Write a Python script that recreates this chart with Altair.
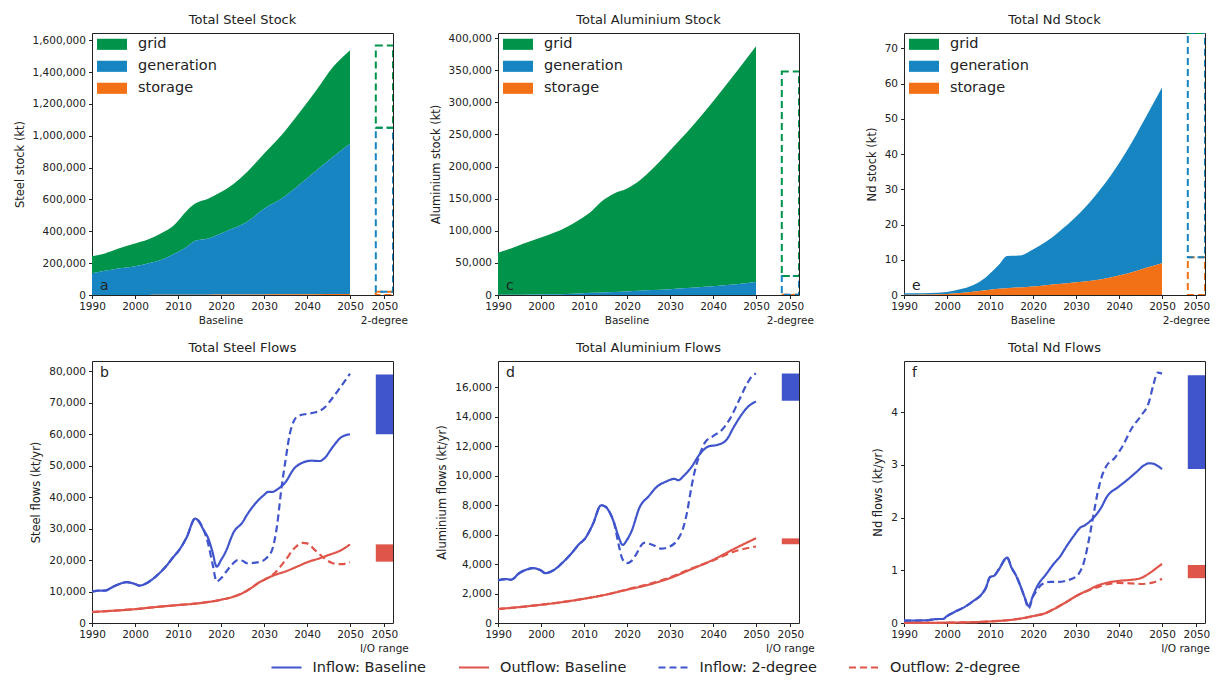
import altair as alt
import pandas as pd
import numpy as np

FONT = "DejaVu Sans"
W, H = 301, 262
XDOM = [1990, 2060]
SLOT = [2056, 2060]          # x-span of the 2-degree / I/O range column (drawn at "2050")
GREEN, SBLUE, ORANGE = "#00934A", "#1785C1", "#F37116"
BLUE, RED = "#4055CC", "#E0554A"
TXT = "#222222"

COMPONENTS = ["grid", "generation", "storage"]
STACK_ORDER = {"storage": 0, "generation": 1, "grid": 2}
SERIES = ["Inflow: Baseline", "Outflow: Baseline", "Inflow: 2-degree", "Outflow: 2-degree"]

# ---------------- stock data (kt) ----------------
STOCK_YEARS = [1990, 1993, 1996, 2000, 2003, 2006, 2009, 2012, 2014, 2017,
               2020, 2023, 2026, 2030, 2034, 2038, 2042, 2046, 2050]

steel_grid = [108000, 109000, 123000, 142000, 150000, 167000, 179000, 226000, 234000, 250000,
              261000, 278000, 311000, 345000, 396000, 449000, 501000, 563000, 588000]
steel_gen = [135700, 151600, 166500, 180400, 197300, 218000, 255800, 300500, 338200, 352900,
             383400, 418000, 455700, 538200, 600700, 683200, 772700, 860700, 942700]
steel_storage = [300, 400, 500, 600, 700, 1000, 1200, 1500, 1800, 2100,
                 2600, 3000, 3300, 3800, 4300, 4800, 5300, 5800, 6300]
steel_2deg = [20000, 1030000, 517000]          # storage, generation, grid

al_grid = [65400, 72100, 79700, 88700, 95700, 104400, 115100, 128700, 141000, 153300,
           160100, 172000, 189100, 216000, 242900, 272000, 303400, 335000, 367000]
al_gen = [300, 400, 500, 800, 1100, 1600, 2400, 3300, 4000, 4700,
          5500, 6500, 7600, 9000, 10700, 12600, 14600, 17000, 20000]
al_storage = [0, 0, 0, 0, 0, 0, 0, 10, 20, 30, 40, 50, 60, 70, 80, 90, 100, 110, 120]
al_2deg = [300, 29200, 318500]

nd_grid = [0] * 19
nd_gen = [0.45, 0.40, 0.40, 0.55, 1.00, 1.85, 3.65, 6.75, 9.15, 9.05,
          10.5, 12.35, 14.8, 18.6, 23.4, 28.8, 35.2, 42.4, 49.9]
nd_storage = [0.05, 0.10, 0.15, 0.30, 0.60, 0.95, 1.35, 1.75, 1.95, 2.15,
              2.40, 2.75, 3.10, 3.60, 4.10, 5.00, 6.10, 7.60, 9.00]
nd_2deg = [10.7, 63.7, 0.6]

# ---------------- flow data (kt/yr) ----------------
steel_in_base_x = [1990, 1992, 1993, 1995, 1997, 1998, 2000, 2001, 2003, 2005, 2007, 2009, 2010, 2012,
                   2014, 2016, 2017, 2018, 2019, 2020, 2021, 2023, 2025, 2026, 2028, 2030, 2031, 2032,
                   2033, 2035, 2037, 2039, 2041, 2043, 2044, 2046, 2048, 2050]
steel_in_base_y = [10000, 10300, 10300, 11600, 12700, 13000, 12400, 11900, 12900, 15000, 17700, 21100,
                   22700, 27200, 33200, 29500, 27000, 22700, 17900, 20000, 22400, 29000, 32000, 34300,
                   38000, 40700, 41700, 41700, 42400, 44800, 49100, 51000, 51600, 51500, 52300, 56000,
                   59100, 60000]
steel_in_2deg_x = [1990, 1992, 1993, 1995, 1997, 1998, 2000, 2001, 2003, 2005, 2007, 2009, 2010, 2012,
                   2014, 2016, 2017, 2018, 2019, 2020, 2022, 2024, 2025, 2026, 2028, 2030, 2031, 2032,
                   2033, 2034, 2035, 2036, 2037, 2038, 2040, 2042, 2044, 2046, 2048, 2050]
steel_in_2deg_y = [10000, 10300, 10300, 11600, 12700, 13000, 12400, 11900, 12900, 15000, 17700, 21100,
                   22700, 27200, 33200, 29500, 25300, 19000, 13200, 14200, 17700, 20000, 19800, 19000,
                   19200, 20000, 21300, 23700, 30600, 42200, 51700, 60100, 64400, 65800, 66500, 67000,
                   68400, 71700, 75400, 79300]
steel_out_base_x = [1990, 1995, 2000, 2005, 2010, 2015, 2020, 2023, 2025, 2027, 2029, 2030, 2032,
                    2035, 2038, 2040, 2043, 2045, 2048, 2050]
steel_out_base_y = [3500, 3900, 4400, 5100, 5700, 6300, 7400, 8400, 9500, 11100, 13000, 13700, 15000,
                    16400, 18100, 19300, 20600, 21600, 23200, 25000]
steel_out_2deg_x = [1990, 1995, 2000, 2005, 2010, 2015, 2020, 2023, 2025, 2027, 2029, 2030, 2032,
                    2035, 2037, 2039, 2040, 2042, 2044, 2046, 2048, 2050]
steel_out_2deg_y = [3500, 3900, 4400, 5100, 5700, 6300, 7400, 8400, 9500, 11100, 13000, 13700, 15300,
                    20000, 23700, 25500, 25300, 23000, 20600, 19000, 18700, 19300]
steel_io = [[60000, 79000], [19500, 25000]]    # inflow range, outflow range

al_in_base_x = [1990, 1992, 1993, 1995, 1997, 1998, 2000, 2001, 2003, 2005, 2007, 2009, 2010, 2012,
                2014, 2015, 2016, 2017, 2018, 2019, 2020, 2021, 2023, 2025, 2027, 2029, 2031, 2032,
                2033, 2035, 2037, 2039, 2041, 2043, 2045, 2047, 2048, 2050]
al_in_base_y = [2900, 2980, 2940, 3400, 3660, 3730, 3570, 3390, 3600, 4100, 4700, 5400, 5650, 6670,
                8000, 7900, 7500, 6800, 5900, 5300, 5650, 6200, 7900, 8600, 9270, 9600, 9790, 9700,
                9940, 10600, 11500, 12000, 12100, 12400, 13400, 14300, 14650, 15050]
al_in_2deg_x = [1990, 1992, 1993, 1995, 1997, 1998, 2000, 2001, 2003, 2005, 2007, 2009, 2010, 2012,
                2014, 2015, 2016, 2017, 2018, 2019, 2020, 2021, 2022, 2024, 2026, 2028, 2030, 2032,
                2033, 2034, 2035, 2036, 2037, 2038, 2040, 2042, 2044, 2046, 2048, 2049, 2050]
al_in_2deg_y = [2900, 2980, 2940, 3400, 3660, 3730, 3570, 3390, 3600, 4100, 4700, 5400, 5650, 6670,
                8000, 7900, 7500, 6800, 5400, 4300, 4070, 4200, 4600, 5450, 5300, 5050, 5200, 5760,
                6400, 7570, 9270, 10600, 11500, 12200, 12700, 13100, 13900, 15100, 16300, 16750, 16950]
al_out_base_x = [1990, 1995, 2000, 2005, 2010, 2015, 2020, 2025, 2030, 2035, 2040, 2045, 2050]
al_out_base_y = [950, 1080, 1240, 1420, 1650, 1920, 2260, 2600, 3050, 3660, 4290, 5050, 5760]
al_out_2deg_x = [1990, 1995, 2000, 2005, 2010, 2015, 2020, 2025, 2030, 2035, 2040, 2045, 2050]
al_out_2deg_y = [950, 1080, 1240, 1420, 1650, 1920, 2290, 2640, 3100, 3700, 4250, 4860, 5200]
al_io = [[15100, 16950], [5350, 5750]]

nd_in_base_x = [1990, 1995, 1998, 1999, 2000, 2002, 2004, 2006, 2008, 2009, 2010, 2011, 2012, 2014,
                2015, 2016, 2017, 2018, 2019, 2020, 2021, 2023, 2025, 2026, 2028, 2030, 2031, 2032,
                2034, 2036, 2037, 2040, 2042, 2044, 2046, 2047, 2048, 2049, 2050]
nd_in_base_y = [0.044, 0.05, 0.076, 0.076, 0.13, 0.22, 0.30, 0.41, 0.54, 0.66, 0.87, 0.90, 1.01, 1.24,
                1.05, 0.91, 0.72, 0.50, 0.32, 0.52, 0.70, 0.92, 1.14, 1.23, 1.48, 1.71, 1.81, 1.85,
                1.99, 2.21, 2.37, 2.59, 2.72, 2.86, 3.00, 3.03, 3.02, 2.98, 2.92]
nd_in_2deg_x = [1990, 1995, 1998, 1999, 2000, 2002, 2004, 2006, 2008, 2009, 2010, 2011, 2012, 2014,
                2015, 2016, 2017, 2018, 2019, 2020, 2021, 2022, 2024, 2026, 2028, 2030, 2031, 2032,
                2033, 2034, 2035, 2036, 2037, 2039, 2041, 2043, 2045, 2047, 2048, 2049, 2050]
nd_in_2deg_y = [0.044, 0.05, 0.076, 0.076, 0.13, 0.22, 0.30, 0.41, 0.54, 0.66, 0.87, 0.90, 1.01, 1.24,
                1.05, 0.91, 0.72, 0.50, 0.28, 0.50, 0.63, 0.73, 0.78, 0.78, 0.81, 0.88, 0.98, 1.20,
                1.58, 2.02, 2.46, 2.78, 2.97, 3.13, 3.38, 3.70, 3.92, 4.20, 4.52, 4.75, 4.73]
nd_out_base_x = [1990, 2000, 2010, 2015, 2020, 2023, 2025, 2028, 2030, 2033, 2035, 2037, 2040, 2043,
                 2045, 2047, 2049, 2050]
nd_out_base_y = [0.0, 0.006, 0.03, 0.06, 0.13, 0.19, 0.27, 0.41, 0.51, 0.63, 0.71, 0.76, 0.80, 0.82,
                 0.85, 0.94, 1.06, 1.12]
nd_out_2deg_x = [1990, 2000, 2010, 2015, 2020, 2023, 2025, 2028, 2030, 2033, 2035, 2037, 2040, 2043,
                 2045, 2048, 2050]
nd_out_2deg_y = [0.0, 0.006, 0.03, 0.06, 0.13, 0.19, 0.27, 0.41, 0.51, 0.62, 0.68, 0.73, 0.76, 0.75,
                 0.74, 0.77, 0.84]
nd_io = [[2.92, 4.70], [0.85, 1.10]]


def x_axis():
    return alt.Axis(values=[1990, 2000, 2010, 2020, 2030, 2040, 2050, 2058],
                    labelExpr="datum.value == 2058 ? '2050' : format(datum.value, 'd')",
                    title=None, labelFlush=False, labelOverlap=False)


def y_axis(ymax, ystep, fmt, title):
    vals = [float(v) for v in np.arange(0, ymax, ystep)]
    return alt.Axis(values=vals, format=fmt, title=title, labelOverlap=False)


def xscale():
    return alt.Scale(domain=XDOM, nice=False, zero=False)


def sublabels(main_txt, slot_txt, last_col):
    layers = []
    if main_txt:
        df = pd.DataFrame({"pos": [2020], "t": [main_txt]})
        layers.append(alt.Chart(df).mark_text(baseline="top", fontSize=10.5, color=TXT, font=FONT).encode(
            x=alt.X("pos:Q", scale=xscale(), axis=x_axis()), y=alt.value(H + 21), text="t:N"))
    df2 = pd.DataFrame({"pos": [2058], "t": [slot_txt]})
    if last_col:
        layers.append(alt.Chart(df2).mark_text(baseline="top", align="right", fontSize=10.5, color=TXT,
                                               font=FONT).encode(
            x=alt.value(W + 5), y=alt.value(H + 21), text="t:N"))
    else:
        layers.append(alt.Chart(df2).mark_text(baseline="top", fontSize=10.5, color=TXT, font=FONT).encode(
            x=alt.X("pos:Q", scale=xscale(), axis=x_axis()), y=alt.value(H + 21), text="t:N"))
    return layers


def letter(ch, top):
    df = pd.DataFrame({"t": [ch]})
    return alt.Chart(df).mark_text(align="left", baseline="middle", fontSize=14, color=TXT, font=FONT).encode(
        x=alt.value(8), y=alt.value(12 if top else H - 9), text="t:N")


def stock_chart(title, ytitle, grid, gen, sto, deg, ymax, ystep, fmt, ch, last_col=False):
    rows = []
    for comp, vals in (("grid", grid), ("generation", gen), ("storage", sto)):
        for yr, v in zip(STOCK_YEARS, vals):
            rows.append({"year": yr, "component": comp, "value": v, "ord": STACK_ORDER[comp]})
    df = pd.DataFrame(rows)
    ysc = alt.Scale(domain=[0, ymax], nice=False)
    yax = y_axis(ymax, ystep, fmt, ytitle)
    area = alt.Chart(df).mark_area(opacity=1, interpolate="monotone").encode(
        x=alt.X("year:Q", scale=xscale(), axis=x_axis()),
        y=alt.Y("value:Q", stack="zero", scale=ysc, axis=yax),
        color=alt.Color("component:N",
                        scale=alt.Scale(domain=COMPONENTS, range=[GREEN, SBLUE, ORANGE]),
                        legend=alt.Legend(title=None, orient="none", legendX=5, legendY=-3.7, padding=0,
                                          symbolType="M-1,-0.37H1V0.37H-1Z", symbolSize=900,
                                          symbolStrokeWidth=0, symbolOpacity=1,
                                          labelFontSize=14.5, labelFont=FONT, labelColor=TXT,
                                          labelOffset=11, rowPadding=-0.7)),
        order=alt.Order("ord:Q"),
    )
    comps = ["storage", "generation", "grid"]
    hi = np.cumsum(deg)
    lo = hi - np.array(deg)
    ddf = pd.DataFrame({"component": comps, "lo": lo, "hi": hi})
    boxes = alt.Chart(ddf).mark_rect(filled=False, strokeDash=[7, 4], strokeWidth=2, clip=True).encode(
        x=alt.datum(SLOT[0], scale=xscale(), axis=x_axis()), x2=alt.datum(SLOT[1]),
        y=alt.Y("lo:Q", scale=ysc, axis=yax), y2="hi:Q",
        stroke=alt.Stroke("component:N", scale=alt.Scale(domain=COMPONENTS, range=[GREEN, SBLUE, ORANGE]),
                          legend=None),
    )
    return alt.layer(area, boxes, *sublabels("Baseline", "2-degree", last_col), letter(ch, False)).properties(
        width=W, height=H, title=title)


def flow_chart(title, ytitle, series, io, ymax, ystep, fmt, ch, show_legend, last_col=False):
    rows = []
    for name, (xs, ys) in zip(SERIES, series):
        for x, y in zip(xs, ys):
            rows.append({"year": x, "value": y, "series": name})
    df = pd.DataFrame(rows)
    ysc = alt.Scale(domain=[0, ymax], nice=False)
    yax = y_axis(ymax, ystep, fmt, ytitle)
    if show_legend:
        leg = alt.Legend(title=None, orient="none", legendX=-228, legendY=290, direction="horizontal",
                         columns=4, columnPadding=27.5, padding=0, symbolType="stroke", symbolSize=900,
                         symbolStrokeWidth=2.2, labelFontSize=14.5, labelFont=FONT, labelColor=TXT,
                         labelOffset=9.5)
    else:
        leg = None
    lines = alt.Chart(df).mark_line(strokeWidth=2.2, interpolate="monotone").encode(
        x=alt.X("year:Q", scale=xscale(), axis=x_axis()),
        y=alt.Y("value:Q", scale=ysc, axis=yax),
        color=alt.Color("series:N", scale=alt.Scale(domain=SERIES, range=[BLUE, RED, BLUE, RED]), legend=leg),
        strokeDash=alt.StrokeDash("series:N",
                                  scale=alt.Scale(domain=SERIES, range=[[1, 0], [1, 0], [7, 4], [7, 4]]),
                                  legend=leg),
    )
    idf = pd.DataFrame({"kind": ["Inflow", "Outflow"], "lo": [io[0][0], io[1][0]], "hi": [io[0][1], io[1][1]]})
    bars = alt.Chart(idf).mark_rect().encode(
        x=alt.datum(SLOT[0], scale=xscale(), axis=x_axis()), x2=alt.datum(SLOT[1]),
        y=alt.Y("lo:Q", scale=ysc, axis=yax), y2="hi:Q",
        fill=alt.Fill("kind:N", scale=alt.Scale(domain=["Inflow", "Outflow"], range=[BLUE, RED]), legend=None),
    )
    return alt.layer(lines, bars, *sublabels(None, "I/O range", last_col), letter(ch, True)).properties(
        width=W, height=H, title=alt.TitleParams(title, offset=6))


c1 = stock_chart("Total Steel Stock", "Steel stock (kt)", steel_grid, steel_gen, steel_storage, steel_2deg,
                 1645000, 200000, ",d", "a")
c2 = stock_chart("Total Aluminium Stock", "Aluminium stock (kt)", al_grid, al_gen, al_storage, al_2deg,
                 407800, 50000, ",d", "c")
c3 = stock_chart("Total Nd Stock", "Nd stock (kt)", nd_grid, nd_gen, nd_storage, nd_2deg,
                 74.4, 10, "d", "e", last_col=True)

f1 = flow_chart("Total Steel Flows", "Steel flows (kt/yr)",
                [(steel_in_base_x, steel_in_base_y), (steel_out_base_x, steel_out_base_y),
                 (steel_in_2deg_x, steel_in_2deg_y), (steel_out_2deg_x, steel_out_2deg_y)],
                steel_io, 83300, 10000, ",d", "b", False)
f2 = flow_chart("Total Aluminium Flows", "Aluminium flows (kt/yr)",
                [(al_in_base_x, al_in_base_y), (al_out_base_x, al_out_base_y),
                 (al_in_2deg_x, al_in_2deg_y), (al_out_2deg_x, al_out_2deg_y)],
                al_io, 17800, 2000, ",d", "d", True)
f3 = flow_chart("Total Nd Flows", "Nd flows (kt/yr)",
                [(nd_in_base_x, nd_in_base_y), (nd_out_base_x, nd_out_base_y),
                 (nd_in_2deg_x, nd_in_2deg_y), (nd_out_2deg_x, nd_out_2deg_y)],
                nd_io, 4.97, 1, "d", "f", False, last_col=True)

RES = dict(color="independent", strokeDash="independent", stroke="independent", fill="independent")

chart = alt.concat(c1, c2, c3, f1, f2, f3, columns=3, spacing={"row": 66, "column": 105},
                   bounds="flush").resolve_scale(**RES).resolve_legend(
    color="independent", strokeDash="independent").properties(
    padding={"left": 5, "top": 5, "right": 0, "bottom": 0}).configure_view(
    stroke=TXT, strokeWidth=1).configure_axis(
    grid=False, domain=False, tickColor=TXT, tickSize=3.5, tickWidth=1,
    labelFont=FONT, labelFontSize=10.5, labelColor=TXT, labelPadding=3,
    titleFont=FONT, titleFontSize=11.5, titleFontWeight="normal", titleColor=TXT, titlePadding=7
).configure_title(font=FONT, fontSize=13, fontWeight="normal", color=TXT, offset=2
).configure_legend(labelFont=FONT, labelColor=TXT)

chart.save("out.html", embed_options={"renderer": "svg", "actions": False})
